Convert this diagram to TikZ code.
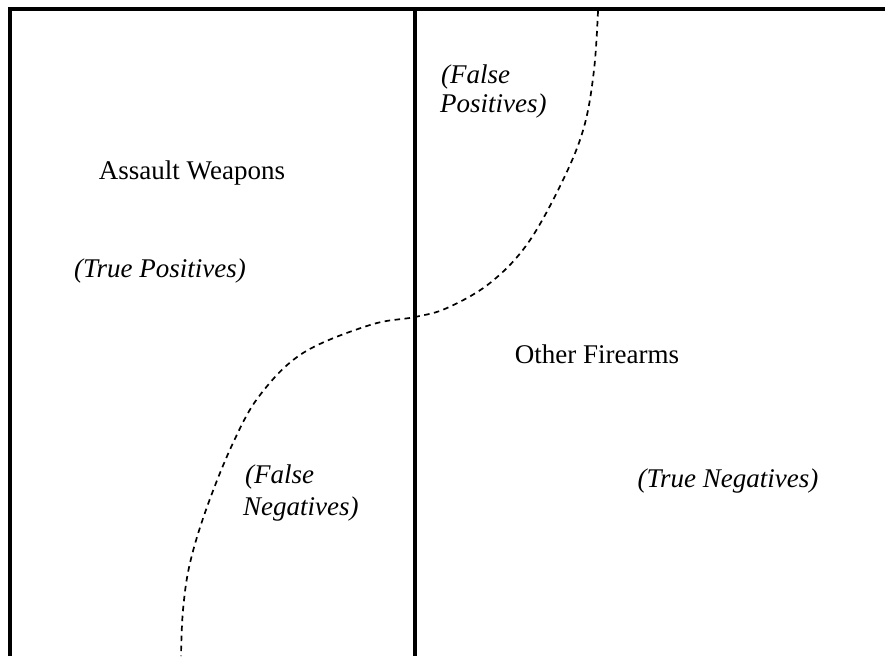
\documentclass[tikz,border=0pt]{standalone}
\usepackage{fontspec}
\setmainfont{Liberation Serif}
\begin{document}
\begin{tikzpicture}[x=1pt,y=-1pt,
  frame/.style={line width=3.5pt},
  split/.style={line width=1.7pt,dash pattern=on 5.5pt off 4.5pt},
  lab/.style={inner sep=0pt,anchor=base,font=\fontsize{27}{30}\selectfont},
  ilab/.style={inner sep=0pt,font=\fontsize{27}{30}\selectfont\itshape}]
\useasboundingbox (0,0) rectangle (885,656);
\coordinate (bl) at (10,656);
\coordinate (tl) at (10,9);
\coordinate (tr) at (885,9);
\coordinate (mt) at (415,9);
\coordinate (mb) at (415,656);
\draw[frame] (bl) -- (tl) -- (tr);
\draw[frame] (mt) -- (mb);
\draw[split] plot[smooth,tension=0.6] coordinates {
  (598,11) (594,70) (584,127) (563,180) (528,243) (490,283) (447,308)
  (415,317) (370,325) (303,353) (260,395) (233,443) (207,507) (190,563)
  (183,610) (181,656)};
\node[lab] (aw) at (192,179) {Assault Weapons};
\node[ilab,anchor=base] (tp) at (160,277) {(True Positives)};
\node[ilab,anchor=base west] (fp1) at (441,83) {(False};
\node[ilab,anchor=base west] (fp2) at (440,112) {Positives)};
\node[ilab,anchor=base west] (fn1) at (245,483) {(False};
\node[ilab,anchor=base west] (fn2) at (243,515) {Negatives)};
\node[lab] (of) at (597,363) {Other Firearms};
\node[ilab,anchor=base] (tn) at (728,487) {(True Negatives)};
\end{tikzpicture}
\end{document}
